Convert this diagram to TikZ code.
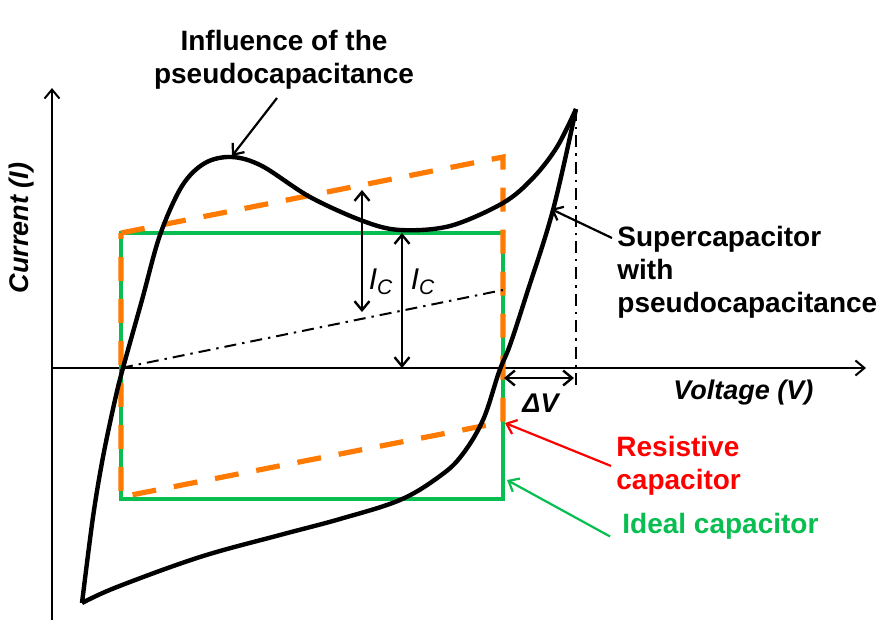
\documentclass[tikz,border=0pt]{standalone}
\usepackage{fontspec}
\setmainfont{Liberation Sans}
\usepackage{tikz}
\usepackage{xcolor}
\usetikzlibrary{positioning,arrows.meta,calc}

\definecolor{verde}{RGB}{8,190,80}
\definecolor{laranja}{RGB}{255,122,0}
\definecolor{vermelho}{RGB}{255,0,0}

\begin{document}
\begin{tikzpicture}[x=0.5pt, y=-0.5pt, >={Straight Barb[length=4.5pt,width=7.5pt]},
    rotulo/.style={font=\fontsize{14}{16.5}\selectfont\bfseries, align=left, inner sep=0pt},
    eixorot/.style={font=\fontsize{13.5}{16}\selectfont\bfseries\itshape, inner sep=0pt},
    curva/.style={line width=2.2pt, line join=round},
    seta/.style={->, line width=1.1pt},
    cota/.style={<->, line width=1.2pt},
    tracoponto/.style={line width=1pt, dash pattern=on 6pt off 3pt on 1.2pt off 3pt}]
    \useasboundingbox (0,0) rectangle (885,627);

    % eixos
    \coordinate (O) at (52,368);
    \coordinate (ybaixo) at (52,620);
    \coordinate (ytopo) at (52,88);
    \coordinate (xfim) at (866,368);
    \draw[->, line width=1pt] (ybaixo) -- (ytopo);
    \draw[->, line width=1pt] (O) -- (xfim);

    % capacitor ideal (retângulo)
    \draw[verde, line width=2.3pt] (121,233) rectangle (503,499);

    % capacitor resistivo (paralelogramo tracejado)
    \draw[laranja, line width=2.6pt, dash pattern=on 12pt off 9pt]
        (121,233) -- (503,157) -- (503,422) -- (121,497) -- cycle;

    % curva do supercapacitor com pseudocapacitância
    \draw[curva] plot[smooth, tension=0.55] coordinates {
        (82,603) (93,517) (103,457) (115,400) (123,368) (142,300) (160,235)
        (182,186) (205,163) (232,157) (262,166) (310,197) (363,221) (400,230)
        (450,226) (503,203) (533,178) (557,147) (576,109)};
    \draw[curva] plot[smooth, tension=0.6] coordinates {
        (576,109) (553,210) (527,293) (510,345) (499,372) (483,420) (462,455)
        (440,476) (400,500) (340,519) (280,535) (200,557) (117,587) (82,603)};

    % retas auxiliares
    \coordinate (ponta) at (576,109);
    \coordinate (pontabaixo) at (576,388);
    \draw[tracoponto] (121,368) -- (503,290);
    \draw[tracoponto] (ponta) -- (pontabaixo);

    % cotas I_C e Delta V
    \draw[cota] (362,190) -- (362,312);
    \draw[cota] (402,233) -- (402,368);
    \draw[cota] (504,378) -- (574,378);
    \node[font=\fontsize{15}{17}\selectfont\itshape, inner sep=0pt] (ic1) at (381,282) {I\textsubscript{C}};
    \node[font=\fontsize{15}{17}\selectfont\itshape, inner sep=0pt] (ic2) at (423,282) {I\textsubscript{C}};
    \node[eixorot, anchor=base west] (dv) at (522,412) {ΔV};

    % rótulos dos eixos
    \node[eixorot, anchor=base west] (tensao) at (673,399) {Voltage (V)};
    \node[eixorot, rotate=90] (corrente) at (22,228) {Current (I)};

    % legendas com setas
    \node[rotulo, align=center, anchor=north] (infl) at (284,30) {Influence of the\\pseudocapacitance};
    \node[rotulo, anchor=north west] (super) at (617,226) {Supercapacitor\\with\\pseudocapacitance};
    \node[rotulo, text=vermelho, anchor=north west] (resist) at (616,436) {Resistive\\capacitor};
    \node[rotulo, text=verde, anchor=north west] (ideal) at (622,513) {Ideal capacitor};

    \coordinate (inflcauda) at (277,98);
    \coordinate (pico) at (232,156);
    \coordinate (supercauda) at (612,238);
    \coordinate (superponta) at (551,209);
    \coordinate (resistponta) at (505,423);
    \coordinate (idealponta) at (507,480);
    \draw[seta] (inflcauda) -- (pico);
    \draw[seta] (supercauda) -- (superponta);
    \draw[seta, vermelho] (resist.west) ++(-5,0) coordinate (resistcauda) -- (resistponta);
    \draw[seta, verde] (ideal.west) ++(-12,10) coordinate (idealcauda) -- (idealponta);
\end{tikzpicture}
\end{document}
